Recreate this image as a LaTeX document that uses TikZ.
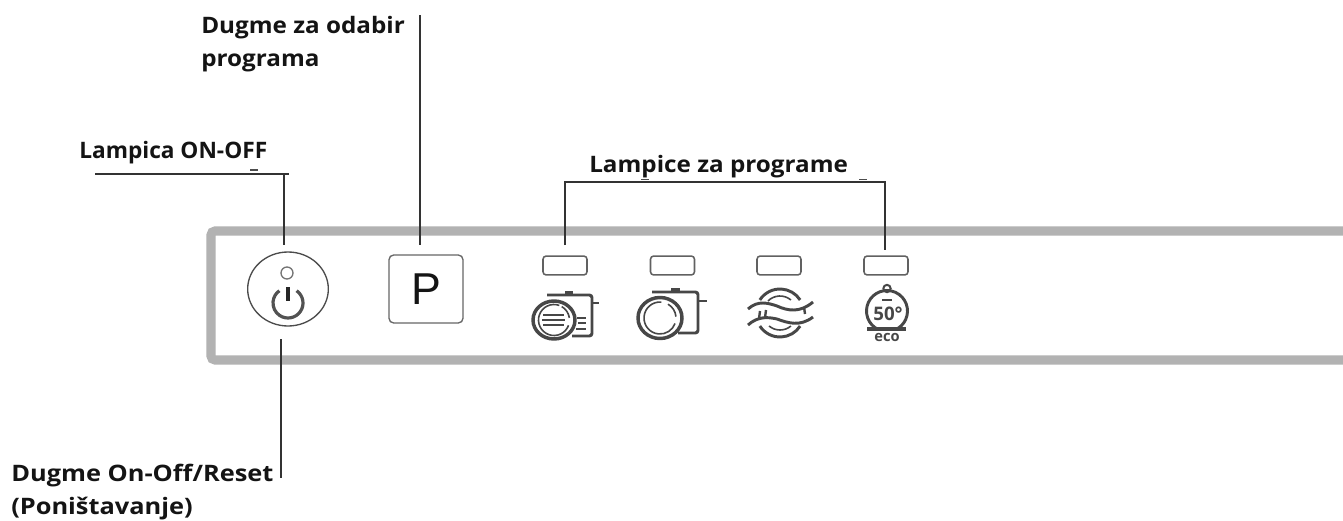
\documentclass[tikz,border=0pt]{standalone}
\usepackage{fontspec}
\usetikzlibrary{shapes.geometric}
\setmainfont{Open Sans}
\newfontfamily\pfont{Liberation Sans}
\tikzset{
 x=0.75pt,y=-0.75pt,
 lead/.style={draw=black!80,line width=1.1pt},
 panel/.style={draw=black!30,line width=6.8pt,rounded corners=3pt},
 led/.style={draw=black!62,line width=1.15pt,rounded corners=2.4pt,minimum width=33pt,minimum height=14.2pt,inner sep=0pt},
 ico/.style={draw=black!72,line width=2.2pt},
 thin ico/.style={draw=black!72,line width=1.2pt},
 lab/.style={font=\fontsize{17}{24.4}\selectfont\bfseries,text=black!92,anchor=north west,inner sep=0pt,align=left,transform shape},
}
\begin{document}
\begin{tikzpicture}
\useasboundingbox (0,0) rectangle (1343,521);
\fill[white] (0,0) rectangle (1343,521);
% panel
\draw[panel] (1350,231) -- (211,231) -- (211,360) -- (1350,360);
% labels
\node[lab,xscale=1.07] (tp) at (201,16) {Dugme za odabir\\programa};
\node[lab] (tl) at (79,141) {Lampica ON-OFF};
\node[lab,xscale=1.07] (tg) at (589,155) {Lampice za programe};
\node[lab,xscale=1.12] (tb) at (11,464) {Dugme On-Off/Reset\\(Poništavanje)};
% button
\node[draw=black!70,line width=1pt,ellipse,minimum width=60.5pt,minimum height=55.5pt,inner sep=0pt] (btn) at (288,289) {};
\node[draw=black!55,line width=1pt,circle,minimum size=9pt,inner sep=0pt] (pled) at (287,273) {};
\draw[ico,line width=2.4pt,draw=black!68] (288,303) ++(-55:15) arc[start angle=-55,end angle=235,radius=15];
\draw[draw=black!85,line width=2.4pt] (288,287) -- (288,301);
% P
\node[draw=black!60,line width=1pt,rounded corners=3.5pt,minimum width=55.5pt,minimum height=51pt,inner sep=0pt,font=\pfont\fontsize{33.5}{33.5}\selectfont,text=black!92] (pbox) at (426,289) {P};
% LEDs
\node[led] (l1) at (565,265.5) {};
\node[led] (l2) at (672.5,265.5) {};
\node[led] (l3) at (779,265.5) {};
\node[led] (l4) at (886,265.5) {};
% leaders
\coordinate (a1) at (95,174); \coordinate (a2) at (289,174); \coordinate (a3) at (284,174); \coordinate (a4) at (284,245);
\draw[lead] (a1) -- (a2);
\draw[lead] (a3) -- (a4);
\coordinate (b1) at (420,15); \coordinate (b2) at (420,245);
\draw[lead] (b1) -- (b2);
\coordinate (c1) at (281,339); \coordinate (c2) at (281,478);
\draw[lead] (c1) -- (c2);
\coordinate (d1) at (565,245); \coordinate (d2) at (565,182); \coordinate (d3) at (885,182); \coordinate (d4) at (885,250);
\draw[lead] (d1) -- (d2) -- (d3) -- (d4);
% specks
\draw[black!70,line width=1pt] (250,170) -- (258,170) (641,179.5) -- (649,179.5) (859,179.5) -- (867,179.5);
% icon 1
\begin{scope}[shift={(554,320)}]
\draw[ico,line width=2.6pt] (0,0) ellipse[x radius=21,y radius=19];
\draw[thin ico] (0,0) ++(-8:15.5) arc[start angle=-8,end angle=-60,radius=15.5];
\draw[thin ico] (0,0) ++(-70:15.5) arc[start angle=-70,end angle=-340,radius=15.5];
\draw[ico,line width=2pt] (-11,-5) -- (10,-5) (-12,0) -- (11,0) (-11,5) -- (10,5);
\draw[ico,rounded corners=2pt] (-7,-25) -- (38,-25) -- (38,16) -- (18,16);
\draw[ico,line width=1.6pt] (38,-17) -- (45,-17);
\fill[black!72] (11,-29) rectangle (19,-25);
\draw[ico,line width=1.6pt] (23,-2) -- (32,-2) (24,3) -- (32,3) (22,9) -- (32,9);
\end{scope}
% icon 2
\begin{scope}[shift={(660,318)}]
\draw[ico,line width=2.6pt] (0,0) ellipse[x radius=22,y radius=20.5];
\draw[thin ico] (0,0) ++(-5:16) arc[start angle=-5,end angle=-60,radius=16];
\draw[thin ico] (0,0) ++(-85:16) arc[start angle=-85,end angle=-340,radius=16];
\draw[ico,rounded corners=2pt] (-8,-26) -- (38,-26) -- (38,15) -- (18,15);
\draw[ico,line width=1.6pt] (38,-17) -- (47,-17);
\fill[black!72] (11,-30) rectangle (20,-25);
\end{scope}
% icon 3
\begin{scope}[shift={(780,313)}]
\draw[ico] (0,0) ++(-147:24) arc[start angle=-147,end angle=-33,radius=24];
\draw[ico] (0,0) ++(147:24) arc[start angle=147,end angle=33,radius=24];
\draw[thin ico] (0,0) ++(-135:17) arc[start angle=-135,end angle=-50,radius=17];
\draw[thin ico] (0,0) ++(130:17) arc[start angle=130,end angle=50,radius=17];
\draw[ico] (-32,-4) .. controls (-22,-13) and (-12,-10) .. (-3,-7) .. controls (8,-2) and (20,0) .. (33,-11);
\draw[ico] (-32,12) .. controls (-22,3) and (-12,4) .. (-3,6) .. controls (8,10) and (20,14) .. (33,4);
\draw[ico,line width=1.8pt] (-20,-2) -- (-21,6) (-14,-3) -- (-15,5) (24,-6) -- (25,1);
\end{scope}
% icon 4
\begin{scope}[shift={(887,311)}]
\draw[ico] (0,0) ++(115:20.5) arc[start angle=115,end angle=425,radius=20.5];
\node[draw=black!72,line width=1.5pt,circle,minimum size=5.5pt,inner sep=0pt] (k4) at (0,-22.5) {};
\draw[draw=black!72,line width=1.4pt] (-5,-11) -- (5,-11);
\draw[draw=black!72,line width=2.6pt] (-20,18) -- (19,18);
\node[font=\fontsize{14}{14}\selectfont\bfseries,text=black!72,inner sep=0pt] (t50) at (1,3) {50°};
\node[font=\fontsize{11}{11}\selectfont\bfseries,text=black!72,inner sep=0pt] (teco) at (0,26) {eco};
\end{scope}
\end{tikzpicture}
\end{document}
